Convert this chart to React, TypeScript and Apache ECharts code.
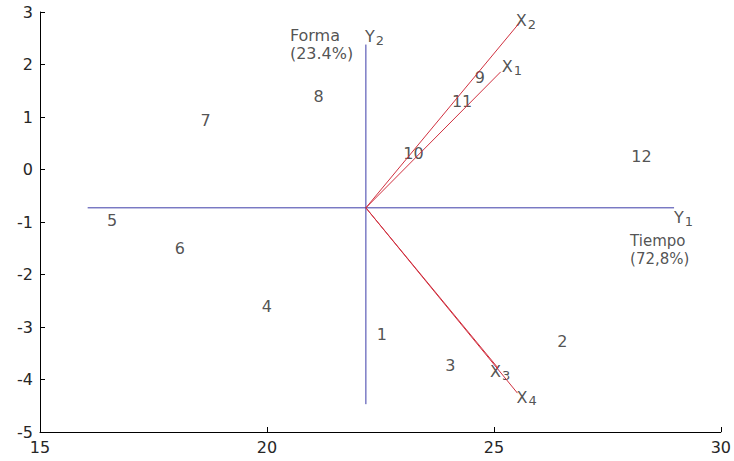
import React, { useEffect, useRef } from "react";
import * as echarts from "echarts";

// Biplot origin and principal axes
const origin: [number, number] = [22.18, -0.73];
const axisY1Range = [16.05, 28.97]; // horizontal axis extent (x values)
const axisY2Range = [2.38, -4.47]; // vertical axis extent (y values)

// Variable vectors
const vectorSubs = ["1", "2", "3", "4"];
const vectorX = [25.15, 25.55, 25.09, 25.52];
const vectorY = [1.86, 2.78, -3.78, -4.26];

// Observations
const obsLabels = ["1", "2", "3", "4", "5", "6", "7", "8", "9", "10", "11", "12"];
const obsX = [22.53, 26.51, 24.04, 20.0, 16.59, 18.08, 18.65, 21.14, 24.69, 23.23, 24.3, 28.25];
const obsY = [-3.14, -3.28, -3.73, -2.6, -0.97, -1.5, 0.94, 1.4, 1.75, 0.31, 1.3, 0.24];

const xTicks = [15, 20, 25, 30];
const yTicks = [-5, -4, -3, -2, -1, 0, 1, 2, 3];

const FONT = "DejaVu Sans, Arial, sans-serif";
const TXT = "#262626";
const RED = "#d0303f";
const BLUE = "#3c3ca8";

export default function App() {
  const ref = useRef<HTMLDivElement>(null);
  useEffect(() => {
    if (!ref.current) return;
    const chart = echarts.init(ref.current, null, { renderer: "svg" });
    const labelOffsets: Record<string, [number, number]> = {
      "1": [1, -5],
      "2": [-3, -3],
      "3": [-8, 4],
      "4": [-1, 4],
    };
    const subRich = {
      b: { fontSize: 16, color: TXT, fontFamily: FONT, lineHeight: 18, verticalAlign: "middle" },
      s: { fontSize: 13, color: TXT, fontFamily: FONT, lineHeight: 18, padding: [7, 0, 0, 1] },
    };
    const series: any[] = [
      {
        type: "line",
        color: BLUE,
        data: [
          [axisY1Range[0], origin[1]],
          [axisY1Range[1], origin[1]],
        ],
        symbol: "none",
        lineStyle: { color: BLUE, width: 1 },
        silent: true,
      },
      {
        type: "line",
        color: BLUE,
        data: [
          [origin[0], axisY2Range[0]],
          [origin[0], axisY2Range[1]],
        ],
        symbol: "none",
        lineStyle: { color: BLUE, width: 1 },
        silent: true,
      },
    ];
    vectorSubs.forEach((s, i) => {
      series.push({
        type: "line",
        color: RED,
        data: [
          [origin[0], origin[1]],
          [vectorX[i], vectorY[i]],
        ],
        symbol: "none",
        lineStyle: { color: RED, width: 1 },
        silent: true,
      });
    });
    series.push({
      type: "scatter",
      symbolSize: 0,
      silent: true,
      data: vectorSubs.map((s, i) => ({
        value: [vectorX[i], vectorY[i]],
        name: s,
        label: { offset: labelOffsets[s] },
      })),
      label: {
        show: true,
        position: "inside",
        align: "left",
        verticalAlign: "middle",
        formatter: (p: any) => `{b|X}{s|${p.name}}`,
        rich: subRich,
      },
    });
    series.push({
      type: "scatter",
      symbolSize: 0,
      silent: true,
      data: obsLabels.map((l, i) => ({ value: [obsX[i], obsY[i]], name: l })),
      label: {
        show: true,
        position: "inside",
        formatter: (p: any) => p.name,
        fontSize: 16,
        color: TXT,
        fontFamily: FONT,
      },
    });
    // Axis names
    series.push({
      type: "scatter",
      symbolSize: 0,
      silent: true,
      data: [
        {
          value: [axisY1Range[1], origin[1]],
          name: "Y1",
          label: {
            formatter: "{b|Y}{s|1}",
            align: "left",
            verticalAlign: "middle",
            offset: [0, 10],
            rich: subRich,
          },
        },
        {
          value: [axisY1Range[1], origin[1]],
          name: "Tiempo",
          label: {
            formatter: "Tiempo\n(72,8%)",
            align: "left",
            verticalAlign: "middle",
            offset: [-44, 42],
            fontSize: 15,
            lineHeight: 18,
            color: TXT,
            fontFamily: FONT,
          },
        },
        {
          value: [origin[0], axisY2Range[0]],
          name: "Y2",
          label: {
            formatter: "{b|Y}{s|2}",
            align: "left",
            verticalAlign: "middle",
            offset: [-1, -8],
            rich: subRich,
          },
        },
        {
          value: [origin[0], axisY2Range[0]],
          name: "Forma",
          label: {
            formatter: "Forma\n(23.4%)",
            align: "left",
            verticalAlign: "middle",
            offset: [-76, 0],
            fontSize: 16,
            lineHeight: 18,
            color: TXT,
            fontFamily: FONT,
          },
        },
      ],
      label: { show: true, position: "inside" },
    });

    chart.setOption({
      animation: false,
      backgroundColor: "#fff",
      grid: { left: 40, right: 7, top: 12, bottom: 29, containLabel: false },
      xAxis: {
        type: "value",
        min: xTicks[0],
        max: xTicks[xTicks.length - 1],
        interval: 5,
        axisLine: { show: true, onZero: false, lineStyle: { color: "#000", width: 1 } },
        axisTick: { show: true, inside: true, length: 5, lineStyle: { color: "#000" } },
        splitLine: { show: false },
        axisLabel: { fontSize: 16, color: TXT, fontFamily: FONT, margin: 7 },
      },
      yAxis: {
        type: "value",
        min: yTicks[0],
        max: yTicks[yTicks.length - 1],
        interval: 1,
        axisLine: { show: true, onZero: false, lineStyle: { color: "#000", width: 1 } },
        axisTick: { show: true, inside: true, length: 5, lineStyle: { color: "#000" } },
        splitLine: { show: false },
        axisLabel: { fontSize: 16, color: TXT, fontFamily: FONT, margin: 7 },
      },
      series,
    });
    return () => chart.dispose();
  }, []);
  return <div ref={ref} style={{ width: 734, height: 461, position: "absolute", left: 0, top: 0 }} />;
}
